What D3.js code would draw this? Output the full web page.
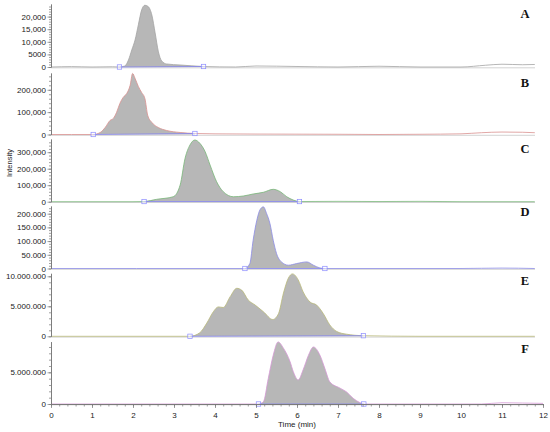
<!DOCTYPE html>
<html>
<head>
<meta charset="utf-8">
<script src="https://cdn.jsdelivr.net/npm/d3@7"></script>
<style>
  body { margin: 0; background: #fff; }
  text { font-family: Arial, "Liberation Sans", sans-serif; }
  text.letter { font-family: "Liberation Serif", "Times New Roman", serif; font-weight: bold; }
</style>
</head>
<body>
<div id="chart"></div>
<script>
// ---- data (time in min, intensity in counts) ----
const timeA = [0, 0.5, 1.0, 1.5, 1.67, 1.8, 1.89, 1.97, 2.05, 2.13, 2.21, 2.29, 2.37, 2.46, 2.54, 2.62, 2.70, 2.82, 3.15, 3.72, 4.5, 5.0, 6.0, 7.0, 8.0, 9.0, 10.0, 10.6, 11.0, 11.5, 11.8];
const valA  = [0, 150, 0, 100, 0, 400, 2800, 6750, 10700, 16700, 22600, 24500, 24000, 20600, 13500, 6000, 2400, 1200, 800, 200, 0, 400, 200, 0, 300, 0, 0, 700, 1100, 900, 1000];

const timeB = [0, 0.5, 1.03, 1.2, 1.32, 1.44, 1.52, 1.60, 1.68, 1.76, 1.85, 1.93, 1.99, 2.05, 2.13, 2.21, 2.29, 2.36, 2.46, 2.62, 2.82, 3.15, 3.51, 4.0, 5.0, 6.0, 7.0, 8.0, 9.0, 10.0, 10.5, 11.0, 11.5, 11.8];
const valB  = [0, 0, 0, 9000, 31000, 63000, 72000, 99000, 139000, 166000, 184000, 220000, 273000, 251000, 215000, 188000, 161000, 85000, 54000, 31000, 18000, 9000, 4500, 3000, 2000, 1500, 1000, 0, 1000, 3000, 8000, 11000, 10000, 8000];

const timeC = [0, 1.0, 2.0, 2.27, 2.58, 2.98, 3.15, 3.27, 3.39, 3.51, 3.63, 3.76, 3.88, 4.04, 4.20, 4.45, 4.69, 4.93, 5.18, 5.42, 5.59, 5.75, 5.91, 6.06, 7.0, 8.0, 9.0, 10.0, 11.0, 11.8];
const valC  = [0, 0, 0, 1000, 14500, 30000, 101000, 263000, 344000, 374000, 354000, 303000, 222000, 121000, 61000, 30000, 34500, 46700, 57000, 75000, 61000, 30000, 10000, 1000, 2000, 1000, 2000, 0, 0, 0];

const timeD = [0, 2.09, 4.0, 4.73, 4.85, 4.93, 5.02, 5.10, 5.18, 5.26, 5.34, 5.42, 5.50, 5.62, 5.79, 5.99, 6.24, 6.40, 6.56, 6.68, 8.0, 10.0, 11.0, 11.8];
const valD  = [0, 0, 0, 0, 18000, 103000, 176000, 215000, 225000, 200000, 164000, 103000, 55000, 24000, 12000, 18000, 24000, 12000, 2000, 0, 0, 0, 1500, 0];

const timeE = [0, 2.0, 3.39, 3.63, 3.80, 3.96, 4.08, 4.20, 4.37, 4.53, 4.65, 4.81, 4.98, 5.18, 5.41, 5.55, 5.67, 5.79, 5.89, 6.03, 6.15, 6.32, 6.48, 6.64, 6.80, 6.97, 7.21, 7.62, 9.0, 11.0, 11.8];
const valE  = [0, 0, 0, 600000, 2200000, 4100000, 4900000, 4800000, 6600000, 8000000, 7700000, 6050000, 5200000, 4100000, 2800000, 3800000, 7200000, 9700000, 10400000, 9400000, 7400000, 5700000, 5200000, 3800000, 1900000, 800000, 350000, 100000, 0, 0, 0];

const timeF = [0, 3.0, 5.06, 5.18, 5.30, 5.42, 5.54, 5.67, 5.83, 5.91, 6.03, 6.15, 6.28, 6.40, 6.56, 6.68, 6.80, 7.05, 7.21, 7.37, 7.54, 7.63, 9.0, 10.5, 11.0, 11.5, 12.0];
const valF  = [0, 0, 0, 350000, 4050000, 7700000, 9800000, 8800000, 6700000, 5100000, 3800000, 5400000, 7700000, 9000000, 7700000, 5600000, 3500000, 2500000, 1900000, 900000, 200000, 0, 0, 0, 200000, 150000, 100000];

// integration start / end markers (min)
const markA = [1.67, 3.72];
const markB = [1.03, 3.51];
const markC = [2.27, 6.06];
const markD = [4.73, 6.68];
const markE = [3.39, 7.62];
const markF = [5.06, 7.63];

// y tick values and their printed labels
const ticksA = [0, 5000, 10000, 15000, 20000];
const labelsA = ["0", "5000", "10,000", "15,000", "20,000"];
const ticksB = [0, 100000, 200000];
const labelsB = ["0", "100,000", "200,000"];
const ticksC = [0, 100000, 200000, 300000];
const labelsC = ["0", "100,000", "200,000", "300,000"];
const ticksD = [0, 50000, 100000, 150000, 200000];
const labelsD = ["0", "50.000", "100.000", "150.000", "200.000"];
const ticksE = [0, 5000000, 10000000];
const labelsE = ["0", "5.000.000", "10.000.000"];
const ticksF = [0, 5000000];
const labelsF = ["0", "5.000.000"];

const timeTicks = [0, 1, 2, 3, 4, 5, 6, 7, 8, 9, 10, 11, 12];
const panelNames = ["A", "B", "C", "D", "E", "F"];

// ---- drawing ----
var width = 550, height = 432;
var svg = d3.select("#chart").append("svg")
  .attr("width", width).attr("height", height);

var x = d3.scaleLinear().domain([0, 12]).range([51, 543]);

// panel layout: pixel rows, axis maxima, colours
var panels = [
  { t: timeA, v: valA, mark: markA, ticks: ticksA, labels: labelsA, max: 25000,    bottom: 67,    top: 4,     minor: 1000,   color: "#a3a3a3", labY: 18 },
  { t: timeB, v: valB, mark: markB, ticks: ticksB, labels: labelsB, max: 275000,   bottom: 134.5, top: 73,    minor: 20000,  color: "#d9908f", labY: 87 },
  { t: timeC, v: valC, mark: markC, ticks: ticksC, labels: labelsC, max: 380000,   bottom: 201.7, top: 139,   minor: 20000,  color: "#79b679", labY: 153 },
  { t: timeD, v: valD, mark: markD, ticks: ticksD, labels: labelsD, max: 228000,   bottom: 268.5, top: 206,   minor: 10000,  color: "#8c8ce6", labY: 216 },
  { t: timeE, v: valE, mark: markE, ticks: ticksE, labels: labelsE, max: 10500000, bottom: 336.3, top: 273.3, minor: 1000000, color: "#b9b97a", labY: 285 },
  { t: timeF, v: valF, mark: markF, ticks: ticksF, labels: labelsF, max: 9850000,  bottom: 404,   top: 341.6, minor: 1000000, color: "#d497d4", labY: 353 }
];

panels.forEach(function(p, i) {
  var y = d3.scaleLinear().domain([0, p.max]).range([p.bottom, p.top]);
  var g = svg.append("g");
  var pts = p.t.map(function(t, k) { return { t: t, v: p.v[k] }; });

  // value at a given time (linear between read points)
  function valueAt(t) {
    var k = d3.bisectLeft(p.t, t);
    if (k <= 0) return p.v[0];
    if (k >= p.t.length) return p.v[p.v.length - 1];
    var f = (t - p.t[k - 1]) / (p.t[k] - p.t[k - 1]);
    return p.v[k - 1] + f * (p.v[k] - p.v[k - 1]);
  }

  // light zero line
  var xEnd = i == 5 ? 543 : 535;
  g.append("line")
    .attr("x1", 51).attr("x2", xEnd)
    .attr("y1", y(0) + 0.8).attr("y2", y(0) + 0.8)
    .attr("stroke", "#c8c8c8").attr("stroke-width", 0.8);

  // filled peak between integration markers
  var inPeak = pts.filter(function(d) { return d.t >= p.mark[0] && d.t <= p.mark[1]; });
  g.append("path")
    .datum(inPeak)
    .attr("d", d3.area()
      .curve(d3.curveMonotoneX)
      .x(function(d) { return x(d.t); })
      .y0(y(0))
      .y1(function(d) { return y(d.v); }))
    .attr("fill", "#b7b7b7");

  // full trace
  g.append("path")
    .datum(pts)
    .attr("d", d3.line()
      .curve(d3.curveMonotoneX)
      .x(function(d) { return x(d.t); })
      .y(function(d) { return y(d.v); }))
    .attr("fill", "none")
    .attr("stroke", p.color)
    .attr("stroke-width", 0.8);

  // integration baseline + square markers
  var m0 = valueAt(p.mark[0]), m1 = valueAt(p.mark[1]);
  g.append("line")
    .attr("x1", x(p.mark[0])).attr("y1", y(m0))
    .attr("x2", x(p.mark[1])).attr("y2", y(m1))
    .attr("stroke", "#8484f0").attr("stroke-width", 0.8);
  g.selectAll("rect.mk")
    .data([[p.mark[0], m0], [p.mark[1], m1]])
    .enter().append("rect")
    .attr("class", "mk")
    .attr("x", function(d) { return x(d[0]) - 2.2; })
    .attr("y", function(d) { return y(d[1]) - 2.2; })
    .attr("width", 4.4).attr("height", 4.4)
    .attr("fill", "#fff").attr("fill-opacity", 0.5)
    .attr("stroke", "#8c8cff").attr("stroke-width", 0.7);

  // y axis, minor ticks then labelled ticks
  var minorVals = d3.range(0, p.max, p.minor);
  var minorAx = g.append("g").attr("transform", "translate(51,0)")
    .call(d3.axisLeft(y).tickValues(minorVals).tickSize(2).tickSizeOuter(0).tickFormat(""));
  var majorAx = g.append("g").attr("transform", "translate(51,0)")
    .call(d3.axisLeft(y).tickValues(p.ticks).tickSize(3.5).tickSizeOuter(0)
      .tickFormat(function(d, k) { return p.labels[k]; }));
  [minorAx, majorAx].forEach(function(a) {
    a.selectAll("path").attr("stroke", "#777").attr("stroke-width", 0.8);
    a.selectAll("line").attr("stroke", "#777").attr("stroke-width", 0.7);
  });
  majorAx.selectAll("text")
    .attr("font-size", "8px").attr("fill", "#222")
    .attr("x", -5);

  // panel letter
  g.append("text")
    .attr("class", "letter")
    .attr("x", 525).attr("y", p.labY)
    .attr("text-anchor", "middle")
    .style("font-size", "12.5px")
    .attr("fill", "#111")
    .text(panelNames[i]);
});

// time axis under the last panel
var xAxMinor = svg.append("g").attr("transform", "translate(0,404)")
  .call(d3.axisBottom(x).tickValues(d3.range(0, 12.01, 0.2)).tickSize(2.5).tickSizeOuter(0).tickFormat(""));
var xAx = svg.append("g").attr("transform", "translate(0,404)")
  .call(d3.axisBottom(x).tickValues(timeTicks).tickSize(4).tickSizeOuter(0));
[xAxMinor, xAx].forEach(function(a) {
  a.selectAll("path").attr("stroke", "#777").attr("stroke-width", 0.8);
  a.selectAll("line").attr("stroke", "#777").attr("stroke-width", 0.7);
});
xAx.selectAll("text").attr("font-size", "8px").attr("fill", "#222").attr("dy", "0.9em");

svg.append("text")
  .attr("x", 297).attr("y", 427)
  .attr("text-anchor", "middle")
  .attr("font-size", "8px").attr("fill", "#222")
  .text("Time (min)");

svg.append("text")
  .attr("transform", "translate(12,163) rotate(-90)")
  .attr("text-anchor", "middle")
  .attr("font-size", "7.5px").attr("fill", "#222")
  .text("Intensity");
</script>
</body>
</html>
